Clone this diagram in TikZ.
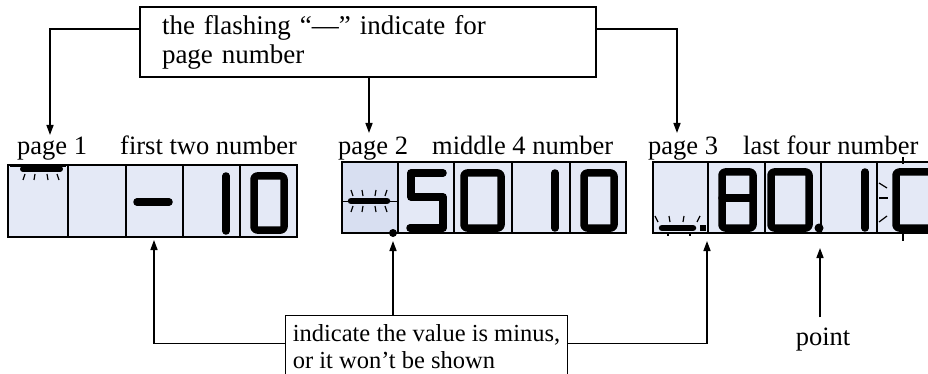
\documentclass[tikz,border=0pt]{standalone}
\usepackage{fontspec}
\setmainfont{Liberation Serif}
\usetikzlibrary{arrows.meta}

\definecolor{lcdbg}{RGB}{228,233,246}
\definecolor{lcdbgdark}{RGB}{216,223,241}

\tikzset{
    notebox/.style={draw, line width=1.3, font=\fontsize{26}{28}\selectfont, align=left},
    lbl/.style={anchor=base west, inner sep=0pt, font=\fontsize{26.5}{28}\selectfont},
    arr/.style={-{Triangle[length=10pt,width=7pt]}, line width=1.5},
    lcd/.style={draw, fill=lcdbg, line width=1.2},
    seg/.style={line width=7.5, line cap=round, line join=round},
    ray/.style={line width=1.2}
}

\begin{document}
\begin{tikzpicture}[x=1pt, y=-1pt]
    \clip (0,0) rectangle (928,374);
    \fill[white] (0,0) rectangle (928,374);

    % 说明框
    \node[notebox, minimum width=456, minimum height=70, text width=412, inner xsep=22,
        font=\fontsize{27}{29}\selectfont]
        (flashnote) at (368,42) {the flashing “—” indicate for\\page number};
    \node[notebox, anchor=north, minimum width=281, minimum height=62, inner xsep=7,
        font=\fontsize{24.5}{27}\selectfont]
        (minusnote) at (426.5,315) {indicate the value is minus,\\or it won’t be shown};
    \node[lbl, anchor=base] (pointlbl) at (823,345) {point};

    % 页标签
    \node[lbl] (page1) at (17,155) {page 1};
    \node[lbl] (first) at (120,155) {first two number};
    \node[lbl] (page2) at (338,155) {page 2};
    \node[lbl] (middle) at (432,155) {middle 4 number};
    \node[lbl] (page3) at (648,155) {page 3};
    \node[lbl] (last) at (743,155) {last four number};

    % 第一页
    \draw[lcd] (8,165) rectangle (297,237);
    \foreach \x in {68,126,183,240} \draw[line width=1.2] (\x,165) -- (\x,237);
    \draw[line width=1] (10,167) -- (66,167);
    \draw[seg, line width=6] (23,169) -- (60,169);
    \foreach \x/\d in {25/-2,35/-1,47/1,57/2} \draw[ray] (\x,174) -- ++(\d,6);
    \draw[seg] (137,202) -- (169,202);
    \draw[seg] (226,176) -- (226,231);
    \draw[seg, rounded corners=3] (254,176) rectangle (284,230);

    % 第二页
    \draw[lcd] (342,162) rectangle (626,233);
    \fill[lcdbgdark] (342.6,162.6) rectangle (398,232.4);
    \foreach \x in {398,454,512,570} \draw[line width=1.2] (\x,162) -- (\x,233);
    \draw[line width=1] (342,201) -- (398,201);
    \draw[seg, line width=6.5] (351,201) -- (387,201);
    \foreach \x/\d in {353/-2,363/-1,375/1,385/2} {
        \draw[ray] (\x,196) -- ++(\d,-6);
        \draw[ray] (\x,206) -- ++(\d,6);
    }
    \fill (393,233) circle (4);
    \draw[seg] (443,173) -- (411,173) -- (411,197) -- (443,197) -- (443,228) -- (410,228);
    \draw[seg, rounded corners=3] (464,173) rectangle (501,228);
    \draw[seg] (555,173) -- (555,228);
    \draw[seg, rounded corners=3] (584,173) rectangle (614,228);

    % 第三页
    \draw[lcd] (653,162) rectangle (940,233);
    \foreach \x in {708,765,821,877} \draw[line width=1.2] (\x,162) -- (\x,233);
    \draw[seg, line width=6.5] (662,228) -- (693,228);
    \fill (700,225) rectangle (706,231);
    \foreach \x/\d in {658/-3,670/-1,683/1,697/3} \draw[ray] (\x,222) -- ++(\d,-6);
    \foreach \x in {668,690} \draw[ray] (\x,232) -- ++(0,4);
    \draw[seg, rounded corners=3] (722,172) rectangle (753,228);
    \draw[seg] (722,198) -- (753,198);
    \draw[seg, rounded corners=3] (771,172) rectangle (809,228);
    \fill (819,228) circle (4.5);
    \draw[seg] (865,172) -- (865,228);
    \draw[seg, rounded corners=3] (896,172) rectangle (934,228);
    \draw[ray] (903,157) -- (903,164);
    \draw[ray] (903,234) -- (903,241);
    \draw[ray] (879,183) -- (887,188);
    \draw[ray] (879,198) -- (888,198);
    \draw[ray] (879,222) -- (887,216);

    % 箭头
    \coordinate (p1tgt) at (50,135);
    \coordinate (p2tgt) at (369,133);
    \coordinate (p3tgt) at (677,133);
    \coordinate (m1tgt) at (154,240);
    \coordinate (m2tgt) at (393,241);
    \coordinate (m3tgt) at (707,241);
    \coordinate (pttgt) at (820,248);

    \draw[arr] ([yshift=13]flashnote.west) -| (p1tgt);
    \draw[arr] (flashnote.south -| p2tgt) -- (p2tgt);
    \draw[arr] ([yshift=13]flashnote.east) -| (p3tgt);
    \draw[arr] ([yshift=3]minusnote.west) -| (m1tgt);
    \draw[arr] (minusnote.north -| m2tgt) -- (m2tgt);
    \draw[arr] ([yshift=3]minusnote.east) -| (m3tgt);
    \draw[arr, shorten <=10pt] (pointlbl.north -| pttgt) -- (pttgt);
\end{tikzpicture}
\end{document}
